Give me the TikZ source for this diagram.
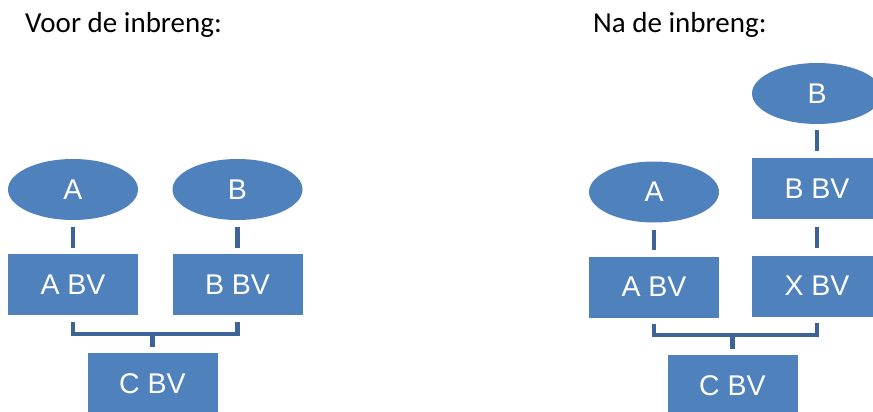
\documentclass[tikz,border=0pt]{standalone}
\usepackage{fontspec}
\setmainfont{Liberation Sans}
\newfontfamily\titlefont{Carlito}
\usetikzlibrary{shapes.geometric,calc}
\definecolor{boxblue}{HTML}{4F81BD}
\definecolor{linkblue}{HTML}{3C6496}
\tikzset{
  x=1pt, y=-1pt,
  org/.style={fill=boxblue, draw=none, text=white, inner sep=0pt,
    font=\fontsize{28.5}{28.5}\selectfont},
  entity/.style={org, ellipse, minimum width=130pt, minimum height=61pt},
  company/.style={org, rectangle, minimum width=130pt, minimum height=61pt},
  link/.style={draw=linkblue, line width=4.5pt},
  heading/.style={anchor=base west, inner sep=0pt,
    font=\titlefont\fontsize{29}{29}\selectfont}
}
\begin{document}
\begin{tikzpicture}
\useasboundingbox (0,0) rectangle (873,412);

% headings
\node[heading] (h1) at (25,33) {Voor de inbreng:};
\node[heading] (h2) at (593,33) {Na de inbreng:};

% situation before
\node[entity]  (A1)   at (73,189.5)   {A};
\node[entity]  (B1)   at (237.5,189.5) {B};
\node[company] (ABV1) at (73,284.5)   {A BV};
\node[company] (BBV1) at (237.5,284.5) {B BV};
\node[company] (CBV1) at (152.5,383.5) {C BV};

\draw[link] ([yshift=-7pt]A1.south) -- ([yshift=6pt]ABV1.north);
\draw[link] ([yshift=-7pt]B1.south) -- ([yshift=6pt]BBV1.north);
\draw[link] ([yshift=-7pt]ABV1.south) |- ([yshift=19pt]CBV1.north)
            -| ([yshift=-7pt]BBV1.south);
\draw[link] ([yshift=19pt]CBV1.north) -- ([yshift=6pt]CBV1.north);

% situation after
\node[entity]  (B2)   at (817,93.5)  {B};
\node[company] (BBV2) at (817,188.5) {B BV};
\node[entity]  (A2)   at (654,192)   {A};
\node[company] (ABV2) at (654,287)   {A BV};
\node[company] (XBV2) at (817,286)   {X BV};
\node[company] (CBV2) at (732.5,385.5) {C BV};

\draw[link] ([yshift=-6pt]B2.south) -- ([yshift=7pt]BBV2.north);
\draw[link] ([yshift=-8pt]BBV2.south) -- ([yshift=7pt]XBV2.north);
\draw[link] ([yshift=-7pt]A2.south) -- ([yshift=6pt]ABV2.north);
\draw[link] ([yshift=-6pt]ABV2.south) |- ([yshift=20pt]CBV2.north)
            -| ([yshift=-6pt]XBV2.south);
\draw[link] ([yshift=20pt]CBV2.north) -- ([yshift=6pt]CBV2.north);
\end{tikzpicture}
\end{document}
